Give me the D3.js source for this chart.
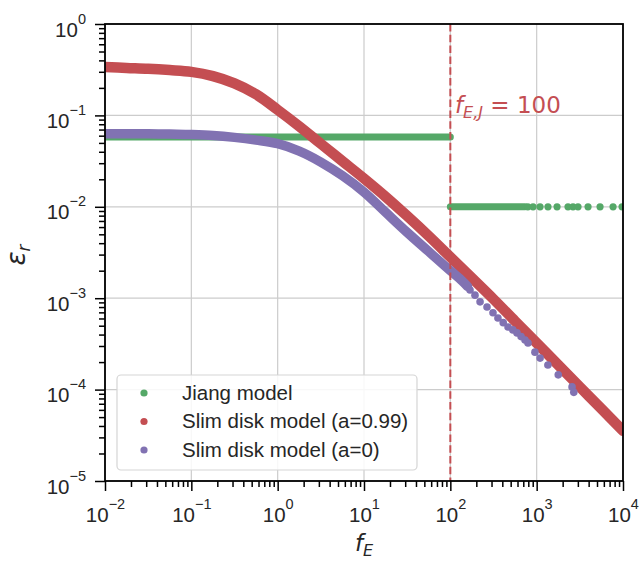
<!DOCTYPE html>
<html><head><meta charset="utf-8">
<script src="https://cdn.jsdelivr.net/npm/d3@7"></script>
<style>body{margin:0;background:#fff} svg{display:block}</style>
</head><body>
<svg id="chart" width="639" height="563"></svg>
<script>
// Sample frequencies f_E for the slim disk curves
const fGrid = [0.01, 0.0178, 0.0316, 0.0562, 0.1, 0.178, 0.316, 0.562, 1, 1.78, 3.16, 5.62,
               10, 17.8, 31.6, 56.2, 100, 178, 316, 562, 1000, 1780, 3160, 5620, 10000];
// Slim disk model, spin a = 0.99
const slim099Eps = [0.339, 0.331, 0.324, 0.313, 0.299, 0.269, 0.224, 0.170, 0.115, 0.0759, 0.0490, 0.0316,
                    0.0204, 0.0129, 0.00794, 0.00479, 0.00282, 0.00166, 0.000977, 0.000562, 0.000324,
                    0.000186, 0.000107, 0.0000617, 0.0000355];
// Slim disk model, spin a = 0 (dense band, then scattered points)
const slim0F = [0.01, 0.0178, 0.0316, 0.0562, 0.1, 0.178, 0.316, 0.562, 1, 1.78, 3.16, 5.62,
                10, 17.8, 31.6, 56.2, 100, 126, 158];
const slim0Eps = [0.0631, 0.0631, 0.0631, 0.0624, 0.0617, 0.0603, 0.0575, 0.0537, 0.0490, 0.0407, 0.0309,
                  0.0219, 0.0145, 0.00871, 0.00525, 0.00324, 0.00200, 0.00166, 0.00135];
const slim0DotF = [169, 193, 221, 266, 312, 356, 410, 466, 530, 592, 660, 733, 794, 955, 1096, 1349, 1778, 2570, 2692];
const slim0DotEps = [0.00123, 0.00108, 0.000912, 0.000802, 0.000692, 0.000607, 0.000540, 0.000484, 0.000450,
                     0.000417, 0.000380, 0.000349, 0.000324, 0.000257, 0.000221, 0.000186, 0.000145, 0.000107, 0.0000933];
// Jiang model: constant efficiency below and above f_E,J
const jiangBandFrom = [0.01, 100];
const jiangBandTo = [100, 733];
const jiangBandEps = [0.058, 0.01];
const jiangDotF = [790, 908, 1094, 1352, 1722, 2307, 2636, 3013, 3936, 5420, 7674, 9750];
const jiangDotEps = [0.01, 0.01, 0.01, 0.01, 0.01, 0.01, 0.01, 0.01, 0.01, 0.01, 0.01, 0.01];
// Axis ticks (decade exponents) and labels
const xTickExp = [-2, -1, 0, 1, 2, 3, 4];
const yTickExp = [0, -1, -2, -3, -4, -5];
const legendLabels = ["Jiang model", "Slim disk model (a=0.99)", "Slim disk model (a=0)"];
const seriesColors = ["#55a868", "#c44e52", "#8172b2"];
const fEJ = 100;

const svg = d3.select("#chart");
const L = 105, R = 623, T = 24, B = 481;
const x = d3.scaleLog().domain([1e-2, 1e4]).range([L, R]);
const y = d3.scaleLog().domain([1e-5, 1]).range([B, T]);

svg.append("defs").append("clipPath").attr("id", "plotclip")
  .append("rect").attr("x", L).attr("y", T).attr("width", R - L).attr("height", B - T);

const majorX = xTickExp.map(e => Math.pow(10, e));
const majorY = yTickExp.map(e => Math.pow(10, e));
const minorOf = (lo, hi) => {
  const out = [];
  for (let e = lo; e < hi; e++) for (let k = 2; k <= 9; k++) out.push(k * Math.pow(10, e));
  return out;
};
const minorX = minorOf(-2, 4);
const minorY = minorOf(-5, 0);

// grid
const grid = svg.append("g").attr("stroke", "#cccccc").attr("stroke-width", 1.2);
grid.selectAll(".gx").data(majorX).join("line")
  .attr("x1", d => x(d)).attr("x2", d => x(d)).attr("y1", T).attr("y2", B);
grid.selectAll(".gy").data(majorY).join("line")
  .attr("x1", L).attr("x2", R).attr("y1", d => y(d)).attr("y2", d => y(d));

const plot = svg.append("g").attr("clip-path", "url(#plotclip)");
// Jiang model
plot.selectAll(".jb").data(jiangBandFrom.map((f, i) => [[f, jiangBandEps[i]], [jiangBandTo[i], jiangBandEps[i]]]))
  .join("path")
  .attr("d", d3.line().x(d => x(d[0])).y(d => y(d[1])))
  .attr("fill", "none").attr("stroke", seriesColors[0]).attr("stroke-width", 7).attr("stroke-linecap", "round");
plot.selectAll(".jd").data(jiangDotF.map((f, i) => [f, jiangDotEps[i]])).join("circle")
  .attr("cx", d => x(d[0])).attr("cy", d => y(d[1])).attr("r", 3.6).attr("fill", seriesColors[0]);

const curve = d3.line().x(d => x(d[0])).y(d => y(d[1])).curve(d3.curveCatmullRom.alpha(0.5));
// Slim disk a=0.99
plot.append("path").datum(fGrid.map((f, i) => [f, slim099Eps[i]]))
  .attr("d", curve).attr("fill", "none").attr("stroke", seriesColors[1])
  .attr("stroke-width", 10.5).attr("stroke-linecap", "round").attr("stroke-linejoin", "round");
// Slim disk a=0
plot.append("path").datum(slim0F.map((f, i) => [f, slim0Eps[i]]))
  .attr("d", curve).attr("fill", "none").attr("stroke", seriesColors[2])
  .attr("stroke-width", 9.5).attr("stroke-linecap", "round").attr("stroke-linejoin", "round");
plot.selectAll(".sd").data(slim0DotF.map((f, i) => [f, slim0DotEps[i]])).join("circle")
  .attr("cx", d => x(d[0])).attr("cy", d => y(d[1])).attr("r", 3.8).attr("fill", seriesColors[2]);

// f_E,J marker line
svg.append("line").attr("x1", x(fEJ)).attr("x2", x(fEJ)).attr("y1", T).attr("y2", B)
  .attr("stroke", "#c44e52").attr("stroke-width", 2).attr("stroke-dasharray", "7.5,3.3");

const ann = svg.append("text").attr("x", 455).attr("y", 113).attr("fill", "#c44e52")
  .attr("font-family", "DejaVu Sans").attr("font-size", 23);
ann.append("tspan").attr("font-style", "italic").text("f");
ann.append("tspan").attr("font-style", "italic").attr("font-size", 16).attr("dy", 5).text("E,J");
ann.append("tspan").attr("dy", -5).text(" = 100");

// axes
const axFont = "Liberation Sans, Arial, sans-serif";
function styleAxis(g) {
  g.select(".domain").remove();
  g.selectAll(".tick line").attr("stroke", "#000").attr("stroke-width", 1.5);
  g.selectAll(".tick text").remove();
}
svg.append("g").attr("transform", `translate(0,${B})`)
  .call(d3.axisBottom(x).tickValues(minorX).tickSize(6).tickFormat(""))
  .call(styleAxis);
const xMaj = svg.append("g").attr("transform", `translate(0,${B})`)
  .call(d3.axisBottom(x).tickValues(majorX).tickSize(10).tickFormat(""))
  .call(styleAxis);
xMaj.selectAll(".tick").append("text")
  .attr("y", 41).attr("text-anchor", "middle").attr("fill", "#262626")
  .attr("font-family", axFont).attr("font-size", 20.5)
  .each(function(d) {
    const t = d3.select(this);
    t.append("tspan").text("10");
    t.append("tspan").attr("dy", -13).attr("font-size", 14.5).text(String(Math.round(Math.log10(d))).replace("-", "\u2212"));
  });
svg.append("g").attr("transform", `translate(${L},0)`)
  .call(d3.axisLeft(y).tickValues(minorY).tickSize(6).tickFormat(""))
  .call(styleAxis);
const yMaj = svg.append("g").attr("transform", `translate(${L},0)`)
  .call(d3.axisLeft(y).tickValues(majorY).tickSize(10).tickFormat(""))
  .call(styleAxis);
yMaj.selectAll(".tick").append("text")
  .attr("x", -19).attr("y", 12).attr("text-anchor", "end").attr("fill", "#262626")
  .attr("font-family", axFont).attr("font-size", 20.5)
  .each(function(d) {
    const t = d3.select(this);
    t.append("tspan").text("10");
    t.append("tspan").attr("dy", -13).attr("font-size", 14.5).text(String(Math.round(Math.log10(d))).replace("-", "\u2212"));
  });

// frame
svg.append("rect").attr("x", L).attr("y", T).attr("width", R - L).attr("height", B - T)
  .attr("fill", "none").attr("stroke", "#000").attr("stroke-width", 1.8);

// axis labels
const xl = svg.append("text").attr("x", 364).attr("y", 551).attr("text-anchor", "middle")
  .attr("font-family", "DejaVu Sans").attr("font-size", 23).attr("fill", "#262626");
xl.append("tspan").attr("font-style", "italic").text("f");
xl.append("tspan").attr("font-style", "italic").attr("font-size", 16).attr("dy", 5).text("E");
const yl = svg.append("text").attr("transform", "translate(25,255) rotate(-90)").attr("text-anchor", "middle")
  .attr("font-family", "DejaVu Sans").attr("font-size", 26).attr("fill", "#262626");
yl.append("tspan").attr("font-style", "italic").text("\u03b5");
yl.append("tspan").attr("font-style", "italic").attr("font-size", 17).attr("dy", 5).text("r");

// legend
const lg = svg.append("g");
lg.append("rect").attr("x", 117).attr("y", 375).attr("width", 300).attr("height", 95).attr("rx", 4)
  .attr("fill", "#fff").attr("fill-opacity", 0.85).attr("stroke", "#d5d5d5").attr("stroke-width", 1.2);
const items = lg.selectAll(".li").data(legendLabels).join("g")
  .attr("transform", (d, i) => `translate(0,${393 + i * 28.5})`);
items.append("circle").attr("cx", 144).attr("cy", 0).attr("r", 3.6).attr("fill", (d, i) => seriesColors[i]);
items.append("text").attr("x", 182).attr("y", 6.5).attr("font-family", axFont).attr("font-size", 20.5)
  .attr("fill", "#262626").text(d => d);
</script>
</body></html>
